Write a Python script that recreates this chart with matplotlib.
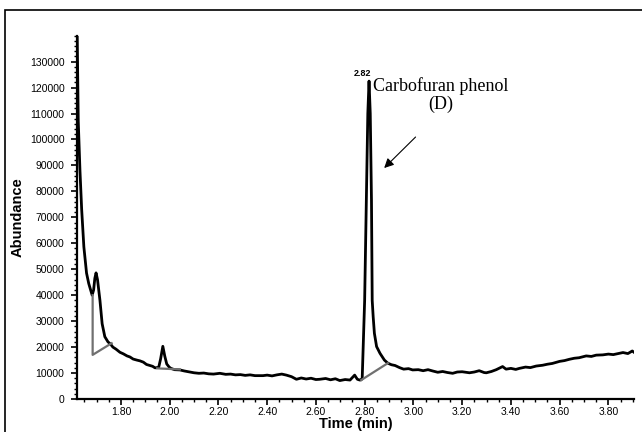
import matplotlib
matplotlib.use("Agg")
import matplotlib.pyplot as plt
from matplotlib.ticker import MultipleLocator, FormatStrFormatter
from matplotlib.patches import Rectangle
import numpy as np

# chromatogram trace
time_min = [1.620, 1.622, 1.625, 1.632, 1.639, 1.648, 1.659, 1.668, 1.676, 1.682,
            1.688, 1.693, 1.698, 1.704, 1.714, 1.723, 1.734, 1.747, 1.757, 1.767,
            1.780, 1.796, 1.810, 1.825, 1.837, 1.850, 1.865, 1.878, 1.892, 1.905,
            1.919, 1.930, 1.940, 1.955, 1.963, 1.972, 1.980, 1.988, 1.998,
            2.005, 2.020, 2.042, 2.060, 2.083, 2.100, 2.120, 2.140, 2.160, 2.180,
            2.206, 2.230, 2.250, 2.270, 2.290, 2.310, 2.330, 2.350, 2.383, 2.400,
            2.420, 2.440, 2.460, 2.479, 2.500, 2.520, 2.540, 2.560, 2.580, 2.600,
            2.616, 2.640, 2.660, 2.680, 2.698, 2.720, 2.740, 2.759, 2.770, 2.780,
            2.786, 2.790, 2.800, 2.807, 2.813, 2.818, 2.823, 2.828, 2.831, 2.835,
            2.840, 2.849, 2.863, 2.881, 2.895, 2.910, 2.925, 2.943, 2.960, 2.980,
            2.997, 3.020, 3.040, 3.060, 3.079, 3.100, 3.120, 3.140, 3.161, 3.180,
            3.200, 3.230, 3.250, 3.270, 3.290, 3.299, 3.320, 3.340, 3.366, 3.380,
            3.400, 3.420, 3.435, 3.460, 3.480, 3.504, 3.530, 3.550, 3.570, 3.600,
            3.620, 3.640, 3.660, 3.680, 3.709, 3.730, 3.750, 3.777, 3.800, 3.820,
            3.845, 3.860, 3.880, 3.898, 3.905]
abundance = [145000, 130000, 107000, 88000, 73000, 58600, 48500, 44500, 42000, 40000,
             42000, 46500, 48600, 46000, 38000, 29000, 24000, 22000, 21200, 20000,
             19200, 18000, 17400, 16600, 16200, 15400, 15000, 14700, 14200, 13300,
             12900, 12600, 12000, 12200, 15500, 20300, 16500, 13500, 12300,
             11800, 11300, 11200, 10800, 10400, 10100, 9900, 10000, 9700, 9600,
             9900, 9500, 9600, 9300, 9400, 9100, 9300, 9000, 9000, 9200,
             8900, 9300, 9600, 9200, 8600, 7600, 8100, 7700, 8000, 7500,
             7600, 7900, 7400, 7800, 7100, 7500, 7300, 9200, 7600, 7300,
             7400, 8000, 38000, 76700, 110000, 122500, 110000, 76700, 38000, 31700,
             25300, 20200, 17600, 15000, 13800, 13200, 12900, 12100, 11500, 11700,
             11200, 11300, 10900, 11300, 10800, 10300, 10600, 10200, 9900, 10400,
             10500, 10100, 10400, 10900, 10200, 10100, 10600, 11300, 12500, 11500,
             11800, 11400, 11800, 12300, 12100, 12700, 13000, 13400, 13700, 14500,
             14800, 15300, 15700, 15900, 16600, 16400, 16900, 17000, 17300, 17100,
             17600, 17900, 17500, 18500, 18000]

# integration baselines (gray)
base1_t = [1.684, 1.684, 1.762]
base1_y = [40000, 17000, 21500]
base2_t = [1.949, 2.042]
base2_y = [11800, 11400]
base3_t = [2.786, 2.895]
base3_y = [7300, 13800]

peak_t = 2.818
peak_y = 122500

fig = plt.figure(figsize=(6.42, 4.32), dpi=100)
ax = fig.add_axes([0.120, 0.0764, 0.8675, 0.841])

ax.plot(time_min, abundance, color="black", lw=2.0, solid_joinstyle="round")
ax.plot(base1_t, base1_y, color="#707070", lw=1.6)
ax.plot(base2_t, base2_y, color="#707070", lw=1.6)
ax.plot(base3_t, base3_y, color="#707070", lw=1.6)

ax.set_xlim(1.62, 3.905)
ax.set_ylim(0, 140000)

ax.set_xticks(np.arange(1.8, 3.81, 0.2))
ax.xaxis.set_major_formatter(FormatStrFormatter("%.2f"))
ax.xaxis.set_minor_locator(MultipleLocator(0.05))
ax.set_yticks(np.arange(0, 130001, 10000))
ax.yaxis.set_minor_locator(MultipleLocator(2000))

for s in ["top", "right"]:
    ax.spines[s].set_visible(False)
for s in ["left", "bottom"]:
    ax.spines[s].set_linewidth(1.6)

ax.tick_params(which="major", length=4, width=1.2, labelsize=7.5)
ax.tick_params(axis="y", which="major", pad=5)
ax.tick_params(axis="x", which="major", pad=2)
ax.tick_params(which="minor", length=2.5, width=1.0)
for lbl in ax.get_xticklabels() + ax.get_yticklabels():
    lbl.set_family("Liberation Sans")

ax.set_xlabel("Time (min)", fontsize=10.5, fontweight="bold",
              family="Liberation Sans", labelpad=0)
ax.set_ylabel("Abundance", fontsize=10.5, fontweight="bold",
              family="Liberation Sans", labelpad=4)

ax.text(2.793, peak_y + 1200, "2.82", ha="center", va="bottom",
        fontsize=6.5, fontweight="bold", family="Liberation Sans")
ax.text(3.111, 117000, "Carbofuran phenol\n(D)", ha="center", va="center",
        fontsize=13, family="Liberation Serif", linespacing=1.05)
ax.annotate("", xy=(2.872, 88250), xytext=(3.017, 101700),
            arrowprops=dict(arrowstyle="-|>", color="black", lw=0.8,
                            mutation_scale=14))

# outer frame around the picture
fig.patches.append(Rectangle((5 / 642, -0.2), 1.2, 1 - 10 / 432 + 0.2,
                             transform=fig.transFigure, fill=False,
                             edgecolor="black", lw=1.2))

fig.savefig("out.png", dpi=100)
